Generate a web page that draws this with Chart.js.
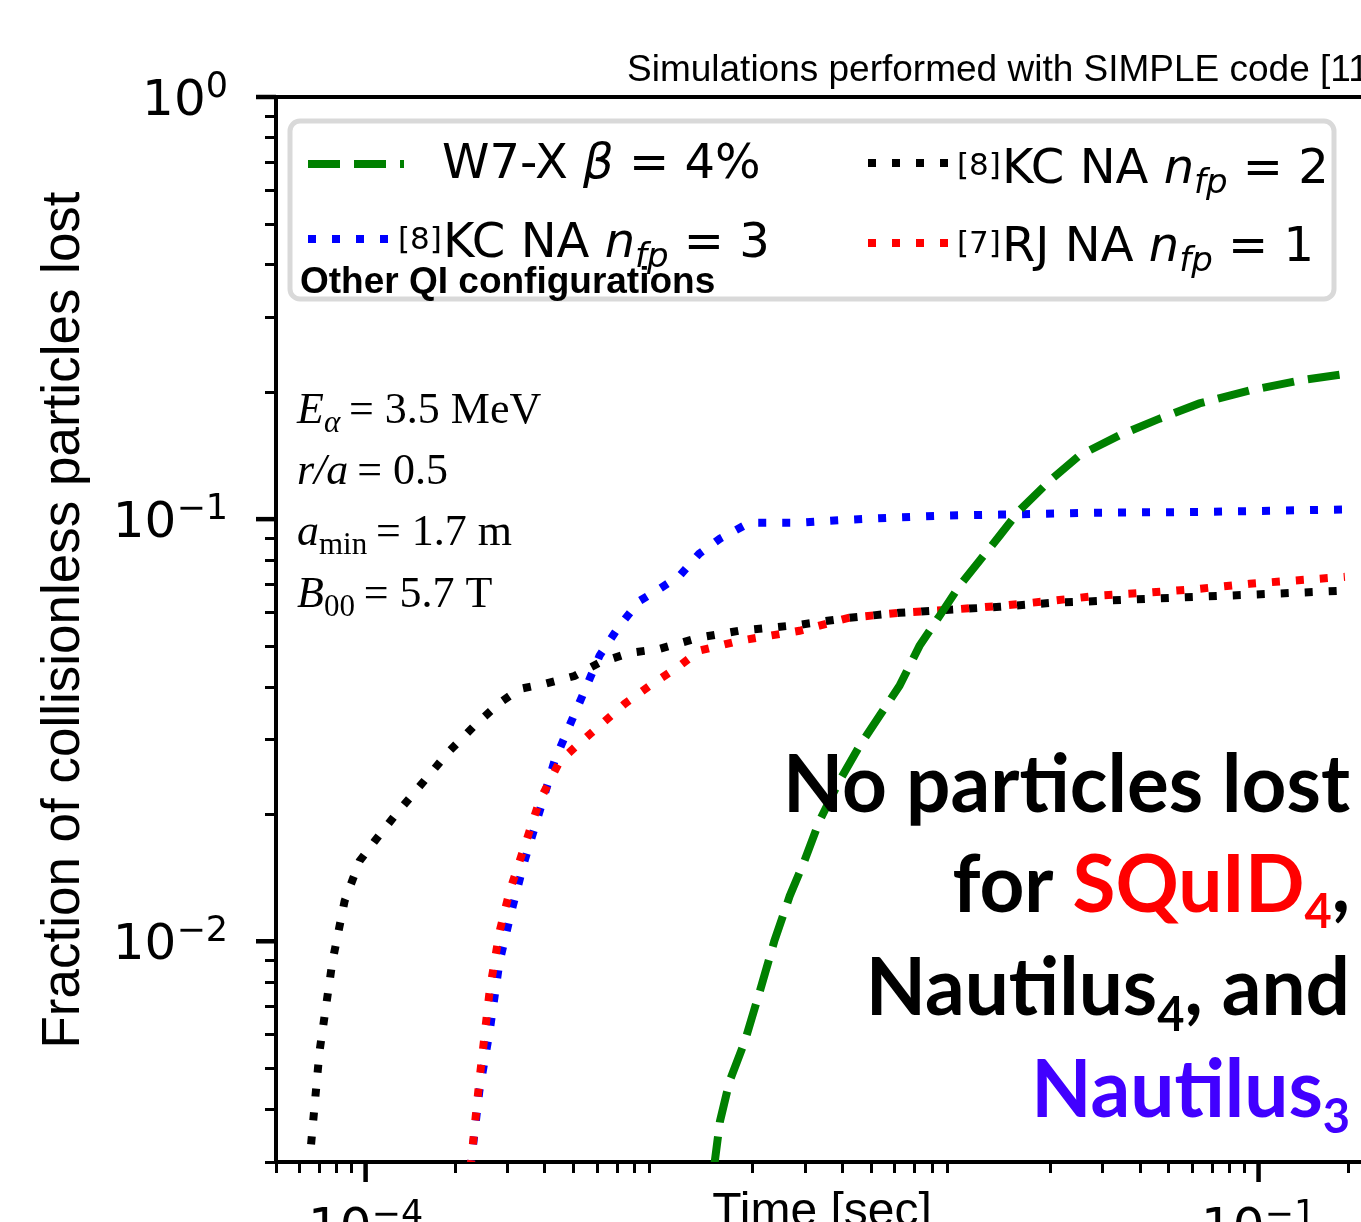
<!DOCTYPE html>
<html>
<head>
<meta charset="utf-8">
<script src="https://cdn.jsdelivr.net/npm/chart.js@4.4.0/dist/chart.umd.min.js"></script>
<style>
  html, body { margin: 0; padding: 0; background: #fff; overflow: hidden; }
  #wrap { width: 1361px; height: 1222px; overflow: hidden; }
  canvas { display: block; }
</style>
</head>
<body>
<div id="wrap"><canvas id="lossChart" width="1420" height="1300"></canvas></div>
<script>
// --- data: time [s] vs fraction of particles lost ---
const w7xTime = [1.48e-3, 1.55e-3, 1.67e-3, 1.88e-3, 2.11e-3, 2.36e-3, 2.66e-3, 2.98e-3, 3.35e-3, 3.91e-3,
  4.56e-3, 5.33e-3, 6.22e-3, 7.26e-3, 8.48e-3, 9.89e-3, 0.01155, 0.0135, 0.0157, 0.0199,
  0.025, 0.0341, 0.0465, 0.0633, 0.0933, 0.137, 0.202];
const w7xFrac = [0.0029, 0.00374, 0.00466, 0.0058, 0.00761, 0.0100, 0.0128, 0.0155, 0.0193, 0.024,
  0.029, 0.0342, 0.0403, 0.0501, 0.059, 0.0695, 0.0797, 0.0914, 0.1047, 0.1234,
  0.1415, 0.158, 0.173, 0.188, 0.2018, 0.213, 0.2215];

const kc2Time = [6.45e-5, 7.0e-5, 7.74e-5, 8.5e-5, 9.55e-5, 1.072e-4, 1.25e-4, 1.52e-4, 1.91e-4, 2.32e-4,
  2.82e-4, 3.29e-4, 3.99e-4, 5.03e-4, 6.11e-4, 7.7e-4, 9.72e-4, 1.32e-3, 1.80e-3, 2.87e-3,
  4.22e-3, 6.22e-3, 9.16e-3, 0.0135, 0.0199, 0.0292, 0.0431, 0.0633, 0.0933, 0.195];
const kc2Frac = [0.0029, 0.00548, 0.00897, 0.01245, 0.0155, 0.01726, 0.0198, 0.0233, 0.0282, 0.0324,
  0.0367, 0.0396, 0.0407, 0.0425, 0.0457, 0.0482, 0.0493, 0.0524, 0.0544, 0.0562,
  0.0584, 0.060, 0.061, 0.062, 0.0633, 0.064, 0.0648, 0.0655, 0.0662, 0.0677];

const kc3Time = [2.25e-4, 2.41e-4, 2.61e-4, 2.82e-4, 3.09e-4, 3.42e-4, 3.84e-4, 4.31e-4, 4.84e-4, 5.44e-4,
  6.11e-4, 7.13e-4, 8.32e-4, 9.72e-4, 1.135e-3, 1.32e-3, 1.55e-3, 1.95e-3, 2.87e-3, 4.22e-3,
  6.22e-3, 9.16e-3, 0.0135, 0.0292, 0.0633, 0.195];
const kc3Frac = [0.0029, 0.00441, 0.00612, 0.00897, 0.01178, 0.0155, 0.0203, 0.0267, 0.0324, 0.0392,
  0.0475, 0.0559, 0.064, 0.0684, 0.0734, 0.0828, 0.0899, 0.0981, 0.0981, 0.0997,
  0.101, 0.102, 0.1025, 0.1036, 0.104, 0.1054];

const rjTime = [2.25e-4, 2.41e-4, 2.61e-4, 2.82e-4, 3.05e-4, 3.42e-4, 3.84e-4, 4.49e-4, 5.24e-4, 6.11e-4,
  7.41e-4, 9.0e-4, 1.135e-3, 1.32e-3, 1.80e-3, 2.87e-3, 4.22e-3, 6.22e-3, 9.16e-3, 0.0135,
  0.0199, 0.0292, 0.0431, 0.0633, 0.0933, 0.195];
const rjFrac = [0.0029, 0.00466, 0.00761, 0.01056, 0.01315, 0.0168, 0.0215, 0.0267, 0.0295, 0.0324,
  0.0365, 0.0403, 0.0449, 0.0488, 0.0515, 0.0544, 0.0584, 0.060, 0.061, 0.0623,
  0.064, 0.0659, 0.067, 0.0684, 0.0703, 0.073];

// axis ranges and labelled decades
const xRange = [5e-5, 0.25];
const yRange = [3e-3, 1];
const xMajorExp = [-4, -1];
const yMajorExp = [0, -1, -2];

const SANS = '"DejaVu Sans"';
const ARIAL = '"Liberation Sans"';
const SERIF = '"Liberation Serif"';

function logTicks(lo, hi, keepDecades) {
  const out = [];
  for (let e = -6; e <= 1; e++) {
    for (let m = 1; m <= 9; m++) {
      const v = +(m * Math.pow(10, e)).toPrecision(3);
      if (v < lo * 0.999 || v > hi * 1.001) continue;
      if (m === 1 && !keepDecades.includes(e)) continue;
      out.push(v);
    }
  }
  return out;
}

function toPoints(t, f) { return t.map((v, i) => ({ x: v, y: f[i] })); }

// green first so it is drawn on top
const series = [
  { key: 'w7x', data: toPoints(w7xTime, w7xFrac), color: '#008000', dash: [32, 14] },
  { key: 'rj',  data: toPoints(rjTime, rjFrac),   color: '#ff0000', dash: [8, 16] },
  { key: 'kc3', data: toPoints(kc3Time, kc3Frac), color: '#0000ff', dash: [8, 16] },
  { key: 'kc2', data: toPoints(kc2Time, kc2Frac), color: '#000000', dash: [8, 16] }
];

function drawRuns(ctx, x, y, parts) {
  parts.forEach(p => {
    ctx.font = p.font;
    ctx.fillStyle = p.color || '#000';
    ctx.fillText(p.text, x, y + (p.dy || 0));
    x += ctx.measureText(p.text).width;
  });
  return x;
}
function runsWidth(ctx, parts) {
  let w = 0;
  parts.forEach(p => { ctx.font = p.font; w += ctx.measureText(p.text).width; });
  return w;
}
function powParts(exp) {
  return [
    { text: '10', font: '50px ' + SANS },
    { text: exp === 0 ? '0' : '\u2212' + Math.abs(exp), font: '35px ' + SANS, dy: -18 }
  ];
}

const figureText = {
  id: 'figureText',
  afterDraw(chart) {
    const ctx = chart.ctx;
    const xs = chart.scales.x, ys = chart.scales.y;
    const area = chart.chartArea;
    ctx.save();
    ctx.textAlign = 'left';
    ctx.textBaseline = 'alphabetic';

    // top spine + long major ticks
    ctx.strokeStyle = '#000';
    ctx.lineWidth = 4;
    ctx.beginPath(); ctx.moveTo(area.left - 2, area.top); ctx.lineTo(area.right, area.top); ctx.stroke();
    ctx.lineWidth = 4.5;
    xMajorExp.forEach(e => {
      const px = xs.getPixelForValue(Math.pow(10, e));
      ctx.beginPath(); ctx.moveTo(px, area.bottom); ctx.lineTo(px, area.bottom + 20); ctx.stroke();
    });
    yMajorExp.forEach(e => {
      const py = ys.getPixelForValue(Math.pow(10, e));
      ctx.beginPath(); ctx.moveTo(area.left - 20, py); ctx.lineTo(area.left, py); ctx.stroke();
    });

    // tick labels
    xMajorExp.forEach(e => {
      const px = xs.getPixelForValue(Math.pow(10, e));
      const parts = powParts(e);
      drawRuns(ctx, px - runsWidth(ctx, parts) / 2, area.bottom + 81, parts);
    });
    yMajorExp.forEach(e => {
      const py = ys.getPixelForValue(Math.pow(10, e));
      const parts = powParts(e);
      drawRuns(ctx, area.left - 48 - runsWidth(ctx, parts), py + 18, parts);
    });

    // axis titles
    ctx.fillStyle = '#000';
    ctx.font = '48px ' + ARIAL;
    ctx.textAlign = 'center';
    ctx.fillText('Time [sec]', 822, 1226);
    ctx.save();
    ctx.translate(79, 620);
    ctx.rotate(-Math.PI / 2);
    ctx.font = '53px ' + ARIAL;
    ctx.fillText('Fraction of collisionless particles lost', 0, 0);
    ctx.restore();
    ctx.textAlign = 'left';

    // title above the axes
    ctx.font = '37px ' + ARIAL;
    ctx.fillText('Simulations performed with SIMPLE code [11]', 627, 81);

    // legend frame
    ctx.beginPath();
    ctx.roundRect(290, 121, 1044, 178, 10);
    ctx.fillStyle = 'rgba(255,255,255,0.85)';
    ctx.fill();
    ctx.lineWidth = 5;
    ctx.strokeStyle = '#d9d9d9';
    ctx.stroke();

    const sample = (key, x0, x1, y) => {
      const s = series.find(d => d.key === key);
      ctx.save();
      ctx.strokeStyle = s.color;
      ctx.lineWidth = 8;
      ctx.lineCap = 'butt';
      ctx.setLineDash(s.dash);
      ctx.beginPath(); ctx.moveTo(x0, y); ctx.lineTo(x1, y); ctx.stroke();
      ctx.restore();
    };
    sample('w7x', 308, 404, 164);
    sample('kc3', 308, 388, 239);
    sample('kc2', 868, 948, 163);
    sample('rj', 868, 948, 243);

    const L = '48px ' + SANS, LI = 'italic 48px ' + SANS, LS = 'italic 34px ' + SANS, REF = '31px ' + SANS;
    drawRuns(ctx, 442, 178, [
      { text: 'W7-X ', font: L }, { text: '\u03B2', font: LI }, { text: ' = 4%', font: L }
    ]);
    const nfp = n => [
      { text: 'n', font: LI }, { text: 'fp', font: LS, dy: 10 }, { text: ' = ' + n, font: L }
    ];
    drawRuns(ctx, 398, 249, [{ text: '[8]', font: REF }]);
    drawRuns(ctx, 443, 257, [{ text: 'KC NA ', font: L }].concat(nfp(3)));
    drawRuns(ctx, 957, 175, [{ text: '[8]', font: REF }]);
    drawRuns(ctx, 1002, 183, [{ text: 'KC NA ', font: L }].concat(nfp(2)));
    drawRuns(ctx, 957, 253, [{ text: '[7]', font: REF }]);
    drawRuns(ctx, 1002, 261, [{ text: 'RJ NA ', font: L }].concat(nfp(1)));

    ctx.font = 'bold 37px ' + ARIAL;
    ctx.fillStyle = '#000';
    ctx.fillText('Other QI configurations', 300, 293);

    // parameter box
    const P = '44px ' + SERIF, PI = 'italic 44px ' + SERIF, PS = '31px ' + SERIF, PSI = 'italic 31px ' + SERIF;
    const EQ = '\u2009= ';
    drawRuns(ctx, 297, 423, [{ text: 'E', font: PI }, { text: '\u03B1', font: PSI, dy: 9 }, { text: EQ + '3.5 MeV', font: P }]);
    drawRuns(ctx, 297, 484, [{ text: 'r/a', font: PI }, { text: EQ + '0.5', font: P }]);
    drawRuns(ctx, 297, 545, [{ text: 'a', font: PI }, { text: 'min', font: PS, dy: 9 }, { text: EQ + '1.7 m', font: P }]);
    drawRuns(ctx, 297, 607, [{ text: 'B', font: PI }, { text: '00', font: PS, dy: 9 }, { text: EQ + '5.7 T', font: P }]);

    // big statement, right aligned
    const B = 'bold 80px Lato', BS = 'bold 48px Lato';
    const red = '#ff0000', violet = '#4100ff';
    const lines = [
      { y: 812, parts: [{ text: 'No particles lost', font: B }] },
      { y: 912, parts: [{ text: 'for ', font: B }, { text: 'SQuID', font: B, color: red },
                        { text: '4', font: BS, dy: 16, color: red }, { text: ',', font: B }] },
      { y: 1015, parts: [{ text: 'Nautilus', font: B }, { text: '4', font: BS, dy: 16 }, { text: ', and', font: B }] },
      { y: 1117, parts: [{ text: 'Nautilus', font: B, color: violet }, { text: '3', font: BS, dy: 16, color: violet }] }
    ];
    const sx = 567 / runsWidth(ctx, lines[0].parts);
    lines.forEach(l => {
      const w = runsWidth(ctx, l.parts);
      ctx.save();
      ctx.translate(1350, l.y);
      ctx.scale(Math.min(sx, 1.1), 1);
      drawRuns(ctx, -w, 0, l.parts);
      ctx.restore();
    });

    ctx.restore();
  }
};

const xTicks = logTicks(xRange[0], xRange[1], xMajorExp);
const yTicks = logTicks(yRange[0], yRange[1], yMajorExp);

new Chart(document.getElementById('lossChart'), {
  type: 'line',
  data: {
    datasets: series.map(s => ({
      label: s.key,
      data: s.data,
      borderColor: s.color,
      borderWidth: 8,
      borderDash: s.dash,
      borderCapStyle: 'butt',
      pointRadius: 0,
      tension: 0,
      fill: false,
      clip: 0
    }))
  },
  options: {
    responsive: false,
    animation: false,
    layout: { padding: { left: 0, top: 97, right: 43, bottom: 0 } },
    plugins: { legend: { display: false }, tooltip: { enabled: false }, title: { display: false } },
    scales: {
      x: {
        type: 'logarithmic',
        min: xRange[0], max: xRange[1],
        afterBuildTicks: s => { s.ticks = xTicks.map(v => ({ value: v })); },
        afterFit: s => { s.height = 138; },
        ticks: { display: false },
        grid: { drawOnChartArea: false, drawTicks: true, tickLength: 11, tickWidth: 3, tickColor: '#000' },
        border: { color: '#000', width: 4 }
      },
      y: {
        type: 'logarithmic',
        min: yRange[0], max: yRange[1],
        afterBuildTicks: s => { s.ticks = yTicks.map(v => ({ value: v })); },
        afterFit: s => { s.width = 276; },
        ticks: { display: false },
        grid: { drawOnChartArea: false, drawTicks: true, tickLength: 11, tickWidth: 3, tickColor: '#000' },
        border: { color: '#000', width: 4 }
      }
    }
  },
  plugins: [figureText]
});
</script>
</body>
</html>
